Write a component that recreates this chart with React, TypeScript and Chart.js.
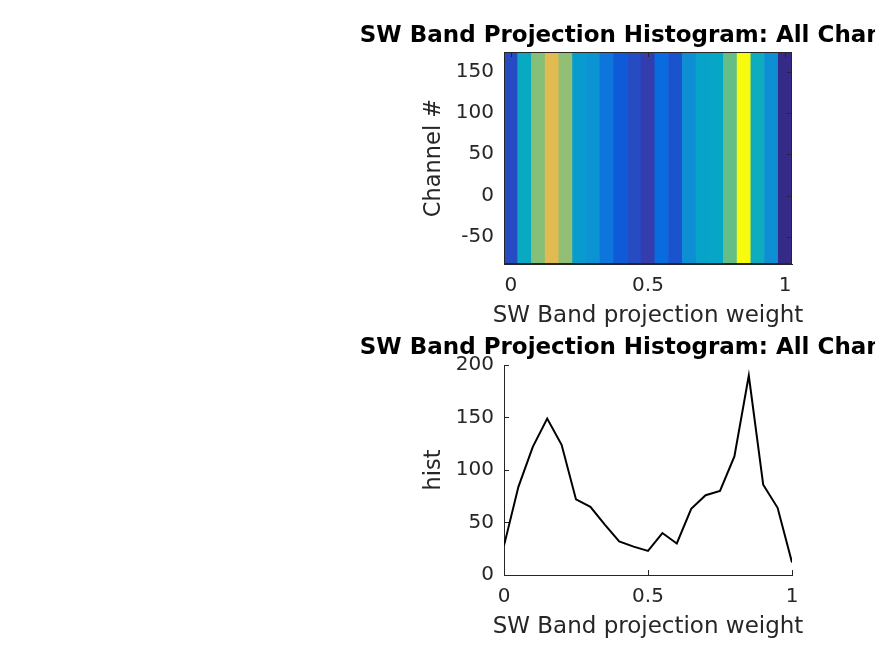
import { useEffect, useRef } from 'react';
import { Chart, registerables } from 'chart.js';

Chart.register(...registerables);

// histogram bins (projection weight) and counts
const weights = [0, 0.05, 0.1, 0.15, 0.2, 0.25, 0.3, 0.35, 0.4, 0.45, 0.5, 0.55, 0.6, 0.65, 0.7, 0.75, 0.8, 0.85, 0.9, 0.95, 1];
const histCounts = [28, 84, 122, 149, 124, 72, 65, 48, 32, 27, 23, 40, 30, 63, 76, 80, 113, 190, 86, 64, 12];

const weightTicks = [0, 0.5, 1];
const weightTickLabels = ['0', '0.5', '1'];
const channelTicks = [-50, 0, 50, 100, 150];
const histTicks = [0, 50, 100, 150, 200];

// axis limits of the image panel
const imageWeightLimits = [-0.025, 1.025];
const channelLimits = [-83, 174];

const titleText = 'SW Band Projection Histogram: All Channels';
const xLabel = 'SW Band projection weight';

// parula, every 4th of the 64 entries (last one is entry 63)
const parulaStops = [
  [0.2081, 0.1663, 0.5292], [0.1959, 0.2645, 0.7279], [0.0117, 0.3875, 0.882],
  [0.0498, 0.4586, 0.8641], [0.0793, 0.52, 0.8312], [0.0343, 0.5966, 0.8199],
  [0.0228, 0.6535, 0.7768], [0.0843, 0.6928, 0.7062], [0.2178, 0.725, 0.6193],
  [0.3953, 0.7459, 0.5244], [0.5709, 0.7485, 0.4494], [0.7184, 0.7411, 0.3905],
  [0.8507, 0.7299, 0.336], [0.9739, 0.7314, 0.2666], [0.988, 0.8066, 0.1794],
  [0.9589, 0.8949, 0.1132], [0.9763, 0.9831, 0.0538],
];

const FONT = '"DejaVu Sans", sans-serif';
const AXIS = '#262626';

function parula(v: number, lo: number, hi: number) {
  let idx = Math.floor(((v - lo) / (hi - lo)) * 64);
  idx = Math.max(0, Math.min(63, idx));
  const pos = idx / 4;
  const i = Math.min(Math.floor(pos), parulaStops.length - 2);
  let f = pos - i;
  if (i === parulaStops.length - 2) f = (idx - i * 4) / 3;
  const a = parulaStops[i];
  const b = parulaStops[i + 1];
  const c = a.map((x, k) => Math.round((x + (b[k] - x) * f) * 255));
  return `rgb(${c[0]},${c[1]},${c[2]})`;
}

// title, x label (wider than the axes, so not the scale title) and
// optional full box with mirrored ticks, like a matlab axes
const matlabFrame = {
  id: 'matlabFrame',
  afterDraw(chart: any, _args: any, opts: any) {
    const { ctx, chartArea: a } = chart;
    const cx = (a.left + a.right) / 2;
    ctx.save();
    if (opts.box) {
      ctx.strokeStyle = AXIS;
      ctx.lineWidth = 1;
      ctx.strokeRect(a.left + 0.5, a.top + 0.5, a.width - 1, a.height - 1);
      ctx.beginPath();
      chart.scales.x.ticks.forEach((t: any) => {
        const px = Math.round(chart.scales.x.getPixelForValue(t.value)) + 0.5;
        ctx.moveTo(px, a.top);
        ctx.lineTo(px, a.top + 5);
      });
      chart.scales.y.ticks.forEach((t: any) => {
        const py = Math.round(chart.scales.y.getPixelForValue(t.value)) + 0.5;
        ctx.moveTo(a.right, py);
        ctx.lineTo(a.right - 5, py);
      });
      ctx.stroke();
    }
    ctx.textAlign = 'center';
    ctx.textBaseline = 'alphabetic';
    if (opts.xLabel) {
      ctx.font = `23px ${FONT}`;
      ctx.fillStyle = AXIS;
      ctx.fillText(opts.xLabel, cx, a.bottom + 58);
    }
    if (opts.title) {
      ctx.font = `bold 23px ${FONT}`;
      ctx.fillStyle = '#000';
      ctx.fillText(opts.title, cx, opts.titleY);
    }
    ctx.restore();
  },
};

function axisX(min: number, max: number) {
  return {
    type: 'linear',
    min,
    max,
    offset: false,
    z: 1,
    afterBuildTicks: (s: any) => { s.ticks = weightTicks.map((value) => ({ value })); },
    afterFit: (s: any) => { s.height = 64; },
    ticks: {
      color: AXIS,
      padding: 15,
      maxRotation: 0,
      autoSkip: false,
      font: { family: FONT, size: 20 },
      callback: (v: number) => weightTickLabels[weightTicks.indexOf(v)] ?? '',
    },
    grid: { drawOnChartArea: false, drawTicks: true, tickLength: -5, color: AXIS },
    border: { display: true, color: AXIS, width: 1 },
    title: { display: false },
  };
}

function axisY(min: number, max: number, ticks: number[], label: string) {
  return {
    type: 'linear',
    min,
    max,
    z: 1,
    afterBuildTicks: (s: any) => { s.ticks = ticks.map((value) => ({ value })); },
    afterFit: (s: any) => { s.width = 84; },
    ticks: {
      color: AXIS,
      padding: 15,
      autoSkip: false,
      font: { family: FONT, size: 20 },
      callback: (v: number) => String(v),
    },
    grid: { drawOnChartArea: false, drawTicks: true, tickLength: -5, color: AXIS },
    border: { display: true, color: AXIS, width: 1 },
    title: { display: true, text: label, color: AXIS, padding: { top: 1 }, font: { family: FONT, size: 22.5 } },
  };
}

function ImagePanel() {
  const canvasRef = useRef<HTMLCanvasElement | null>(null);

  useEffect(() => {
    if (!canvasRef.current) return;
    const lo = Math.min(...histCounts);
    const hi = Math.max(...histCounts);
    const chart = new Chart(canvasRef.current, {
      type: 'bar',
      data: {
        datasets: [{
          data: weights.map((w) => ({ x: w, y: [channelLimits[0], channelLimits[1]] })) as any,
          backgroundColor: histCounts.map((c) => parula(c, lo, hi)),
          borderWidth: 0,
          barPercentage: 1,
          categoryPercentage: 1,
        }],
      },
      options: {
        responsive: false,
        animation: false,
        devicePixelRatio: 1,
        layout: { padding: { left: 420, right: 83, top: 52, bottom: 0 } },
        plugins: {
          legend: { display: false },
          tooltip: { enabled: false },
          // @ts-ignore
          matlabFrame: { box: true, title: titleText, titleY: 42, xLabel },
        },
        scales: {
          x: axisX(imageWeightLimits[0], imageWeightLimits[1]) as any,
          y: axisY(channelLimits[0], channelLimits[1], channelTicks, 'Channel #') as any,
        },
      },
      plugins: [matlabFrame],
    });
    return () => chart.destroy();
  }, []);

  return <canvas ref={canvasRef} width={875} height={328} style={{ display: 'block' }} />;
}

function HistPanel() {
  const canvasRef = useRef<HTMLCanvasElement | null>(null);

  useEffect(() => {
    if (!canvasRef.current) return;
    const chart = new Chart(canvasRef.current, {
      type: 'line',
      data: {
        datasets: [{
          data: weights.map((w, i) => ({ x: w, y: histCounts[i] })),
          borderColor: '#000',
          borderWidth: 2,
          pointRadius: 0,
          tension: 0,
          fill: false,
        }],
      },
      options: {
        responsive: false,
        animation: false,
        devicePixelRatio: 1,
        layout: { padding: { left: 420, right: 83, top: 37, bottom: 17 } },
        plugins: {
          legend: { display: false },
          tooltip: { enabled: false },
          // @ts-ignore
          matlabFrame: { box: false, title: titleText, titleY: 26, xLabel },
        },
        scales: {
          x: axisX(0, 1) as any,
          y: axisY(0, 200, histTicks, 'hist') as any,
        },
      },
      plugins: [matlabFrame],
    });
    return () => chart.destroy();
  }, []);

  return <canvas ref={canvasRef} width={875} height={328} style={{ display: 'block' }} />;
}

export default function App() {
  return (
    <div style={{ position: 'absolute', left: 0, top: 0, width: 875, height: 656, background: '#fff', overflow: 'hidden' }}>
      <ImagePanel />
      <HistPanel />
    </div>
  );
}
